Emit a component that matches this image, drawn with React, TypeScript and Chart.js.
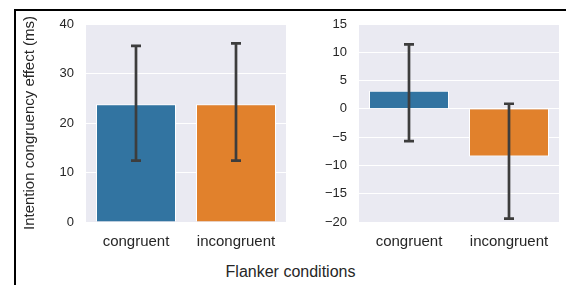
import React, { useEffect, useRef } from "react";
import { Chart, registerables } from "chart.js";

Chart.register(...registerables);

const categories = ["congruent", "incongruent"];
const leftValues = [23.8, 23.8];
const leftErrLow = [12.4, 12.4];
const leftErrHigh = [35.6, 36.1];
const rightValues = [3.2, -8.4];
const rightErrLow = [-5.7, -19.4];
const rightErrHigh = [11.4, 0.9];
const barColors = ["#3274a1", "#e1812c"];
const leftTicks = { min: 0, max: 40, step: 10 };
const rightTicks = { min: -20, max: 15, step: 5 };
const yTitle = "Intention congruency effect (ms)";
const xTitle = "Flanker conditions";

const FONT = "'Liberation Sans', Arial, sans-serif";
const TEXT = "#262626";

const errorBarPlugin = {
  id: "errorBars",
  afterDatasetsDraw(chart: any) {
    const opts = chart.options.plugins.errorBars;
    if (!opts) return;
    const { ctx } = chart;
    const meta = chart.getDatasetMeta(0);
    const y = chart.scales.y;
    ctx.save();
    ctx.strokeStyle = "#3d3d3d";
    ctx.lineWidth = 2.7;
    ctx.lineCap = "butt";
    meta.data.forEach((bar: any, i: number) => {
      const x = bar.x;
      const yl = y.getPixelForValue(opts.low[i]);
      const yh = y.getPixelForValue(opts.high[i]);
      ctx.beginPath();
      ctx.moveTo(x, yl);
      ctx.lineTo(x, yh);
      ctx.moveTo(x - 5, yl);
      ctx.lineTo(x + 5, yl);
      ctx.moveTo(x - 5, yh);
      ctx.lineTo(x + 5, yh);
      ctx.stroke();
    });
    ctx.restore();
  },
};

const bgPlugin = {
  id: "plotBg",
  beforeDraw(chart: any) {
    const { ctx, chartArea } = chart;
    ctx.save();
    ctx.fillStyle = "#eaeaf2";
    ctx.fillRect(chartArea.left, chartArea.top, chartArea.right - chartArea.left, chartArea.bottom - chartArea.top);
    ctx.restore();
  },
};

function fmt(v: number) {
  return v < 0 ? "\u2212" + Math.abs(v) : String(v);
}

function makeConfig(
  values: number[],
  low: number[],
  high: number[],
  ticks: { min: number; max: number; step: number },
  yAxisWidth: number,
  padRight: number,
  showTitle: boolean
): any {
  return {
    type: "bar",
    data: {
      labels: categories,
      datasets: [
        {
          data: values,
          backgroundColor: barColors,
          borderColor: "#ffffff",
          borderWidth: 1,
          barPercentage: 0.8,
          categoryPercentage: 1,
        },
      ],
    },
    options: {
      animation: false,
      responsive: false,
      maintainAspectRatio: false,
      layout: { padding: { top: 14, right: padRight, left: 0, bottom: 0 } },
      plugins: {
        legend: { display: false },
        tooltip: { enabled: false },
        errorBars: { low, high },
      },
      scales: {
        x: {
          grid: { display: false, drawTicks: false },
          border: { display: false },
          ticks: {
            color: TEXT,
            font: { family: FONT, size: 15 },
            padding: 11,
            maxRotation: 0,
            minRotation: 0,
            autoSkip: false,
          },
          afterFit(s: any) {
            s.height = 33;
            s.paddingLeft = 0;
            s.paddingRight = 0;
          },
        },
        y: {
          min: ticks.min,
          max: ticks.max,
          grid: { color: "#ffffff", lineWidth: 1, drawTicks: false },
          border: { display: false },
          ticks: {
            stepSize: ticks.step,
            color: TEXT,
            font: { family: FONT, size: 13 },
            padding: 12,
            callback: (v: any) => fmt(Number(v)),
          },
          title: {
            display: showTitle,
            text: yTitle,
            color: TEXT,
            font: { family: FONT, size: 15 },
            padding: { top: 5, bottom: 0 },
          },
          afterFit(s: any) {
            s.width = yAxisWidth;
            s.paddingTop = 0;
            s.paddingBottom = 0;
          },
        },
      },
    },
    plugins: [bgPlugin, errorBarPlugin],
  };
}

function BarChart(props: {
  values: number[];
  low: number[];
  high: number[];
  ticks: { min: number; max: number; step: number };
  yAxisWidth: number;
  padRight: number;
  showTitle: boolean;
  left: number;
  width: number;
}) {
  const ref = useRef<HTMLCanvasElement>(null);
  useEffect(() => {
    if (!ref.current) return;
    const chart = new Chart(
      ref.current,
      makeConfig(props.values, props.low, props.high, props.ticks, props.yAxisWidth, props.padRight, props.showTitle)
    );
    return () => chart.destroy();
  }, []);
  return (
    <canvas
      ref={ref}
      width={props.width}
      height={245}
      style={{ position: "absolute", left: props.left, top: 10, width: props.width, height: 245 }}
    />
  );
}

export default function App() {
  return (
    <div
      style={{
        position: "fixed",
        left: 0,
        top: 0,
        width: 566,
        height: 285,
        background: "#ffffff",
        overflow: "hidden",
      }}
    >
      <div style={{ position: "absolute", left: 14, top: 9, width: 552, height: 1.5, background: "#000" }} />
      <div style={{ position: "absolute", left: 14, top: 9, width: 1.5, height: 276, background: "#000" }} />
      <BarChart
        values={leftValues}
        low={leftErrLow}
        high={leftErrHigh}
        ticks={leftTicks}
        yAxisWidth={70}
        padRight={4}
        showTitle={true}
        left={16}
        width={274}
      />
      <BarChart
        values={rightValues}
        low={rightErrLow}
        high={rightErrHigh}
        ticks={rightTicks}
        yAxisWidth={69}
        padRight={7}
        showTitle={false}
        left={290}
        width={276}
      />
      <div
        style={{
          position: "absolute",
          left: 0,
          width: 581,
          top: 263,
          textAlign: "center",
          fontFamily: FONT,
          fontSize: 16,
          color: TEXT,
          lineHeight: "18px",
        }}
      >
        {xTitle}
      </div>
    </div>
  );
}
